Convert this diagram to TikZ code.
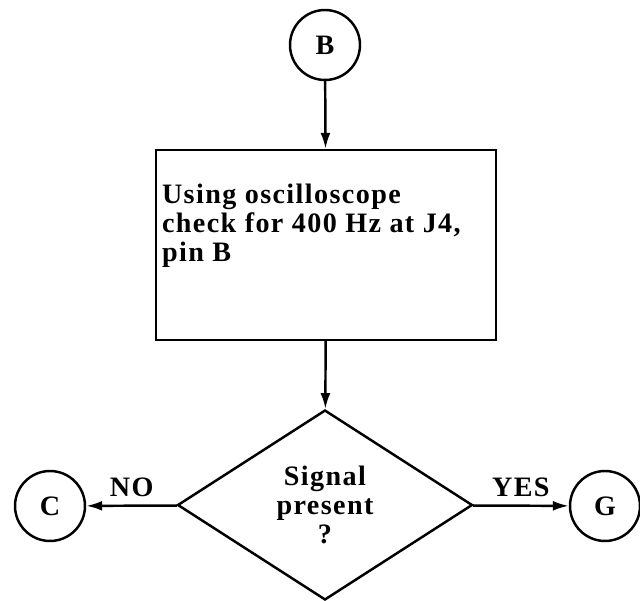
\documentclass[tikz,border=0pt]{standalone}
\usepackage{fontspec}
\setmainfont[LetterSpace=5]{Liberation Serif}
\usetikzlibrary{arrows.meta, positioning, calc, shapes.geometric}

\tikzset{
  connector/.style={circle, draw, minimum size=1.4cm, inner sep=0pt},
  stepbox/.style={rectangle, draw, minimum width=6.8cm, minimum height=3.8cm, inner sep=0pt},
  boxtext/.style={align=left, inner sep=0pt},
  decision/.style={diamond, draw, minimum width=5.9cm, minimum height=3.8cm, inner sep=0pt, align=center},
  flow/.style={-{Latex[length=0.32cm, width=0.2cm]}}
}

\begin{document}
\begin{tikzpicture}[x=0.02cm, y=-0.02cm, line width=1.4pt,
    font=\bfseries\fontsize{16}{16.5}\selectfont]
  \useasboundingbox (0,0) rectangle (640,601);

  % start and process step
  \node[connector] (B) at (325,45) {B};
  \node[stepbox] (check) at (326,245) {};
  \node[boxtext, anchor=north west] (checktext) at ($(check.north west)+(6,34)$)
    {Using oscilloscope\\check for 400 Hz at J4,\\pin B};

  % decision and exits
  \node[decision] (signal) at (325,505) {Signal\\present\\?};
  \node[connector] (C) at (50,506) {C};
  \node[connector] (G) at (605,506) {G};

  \draw[flow] (B) -- (check);
  \draw[flow] (check) -- (signal);
  \draw[flow] (signal) -- node[above=1pt] {NO} (C);
  \draw[flow] (signal) -- node[above=1pt] {YES} (G);
\end{tikzpicture}
\end{document}
